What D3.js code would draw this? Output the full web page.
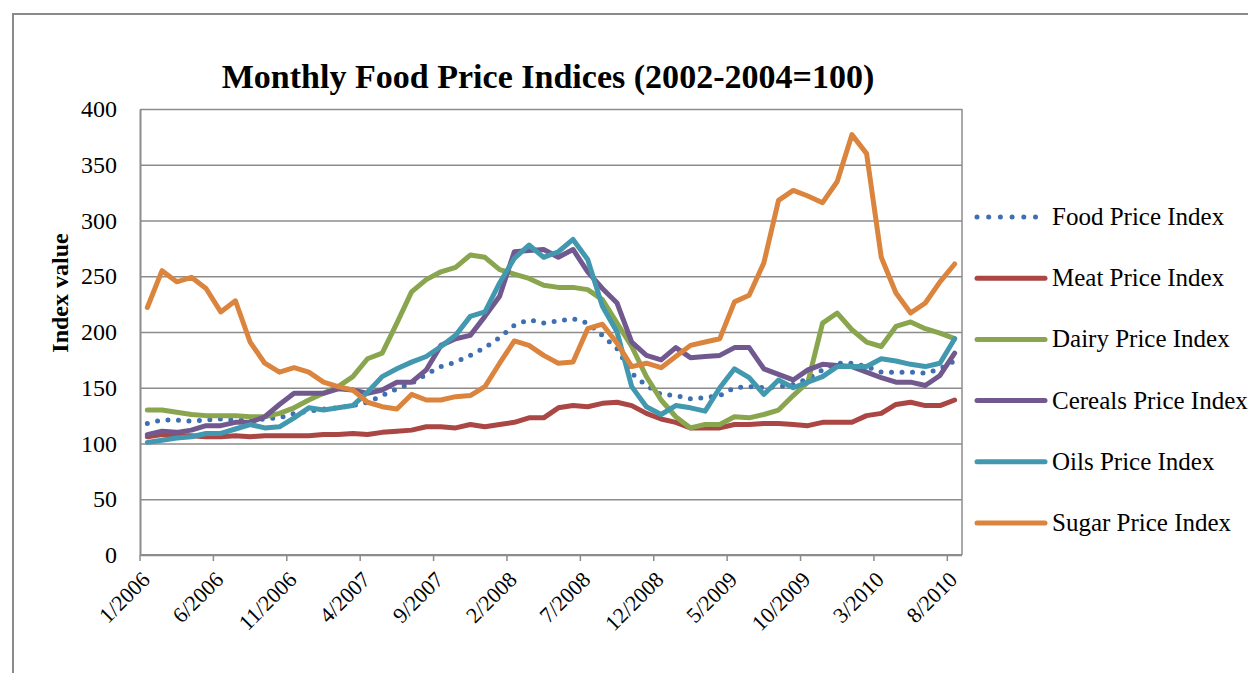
<html>
<head>
<meta charset="utf-8">
<title>Monthly Food Price Indices</title>
<script src="https://d3js.org/d3.v7.min.js"></script>
<style>
  body { margin: 0; background: #fff; }
  svg text { font-family: "Liberation Serif", "DejaVu Serif", serif; fill: #000; }
</style>
</head>
<body>
<div id="chart"></div>
<script>
// ---- data ----
const months = [];
for (let yr = 2006; yr <= 2010; yr++) {
  for (let m = 1; m <= 12; m++) {
    if (yr === 2010 && m > 8) break;
    months.push(m + "/" + yr);
  }
}
const tickLabels = ["1/2006","6/2006","11/2006","4/2007","9/2007","2/2008","7/2008",
                    "12/2008","5/2009","10/2009","3/2010","8/2010"];
const yTicks = [0, 50, 100, 150, 200, 250, 300, 350, 400];

const food = [118,121,121,120,121,122,121,121,122,123,127,129,
              131,132,134,137,143,149,154,162,169,173,179,186,
              195,206,211,208,210,212,208,197,185,163,152,144,
              143,140,141,143,150,151,150,151,153,158,166,172,
              172,169,164,164,164,163,167,174];
const meat = [106,108,107,107,106,106,107,106,107,107,107,107,
              108,108,109,108,110,111,112,115,115,114,117,115,
              117,119,123,123,132,134,133,136,137,134,127,122,
              119,114,114,114,117,117,118,118,117,116,119,119,
              119,125,127,135,137,134,134,139];
const dairy = [130,130,128,126,125,125,125,124,124,127,132,139,
               145,151,160,176,181,208,236,247,254,258,269,267,
               256,252,248,242,240,240,238,229,208,187,160,139,
               124,114,117,117,124,123,126,130,143,155,208,217,
               202,191,187,205,209,203,199,194];
const cereals = [108,111,110,112,116,116,119,119,124,135,145,145,
                 145,149,148,145,148,155,155,166,188,194,197,214,
                 232,272,273,274,267,274,254,239,226,191,179,175,
                 186,177,178,179,186,186,167,162,157,166,171,170,
                 169,164,159,155,155,152,161,181];
const oils = [101,103,105,106,109,109,113,117,114,115,123,132,
              130,132,134,146,160,167,173,178,187,197,214,218,
              244,266,278,267,272,283,265,223,200,151,133,126,
              134,132,129,150,167,159,144,157,150,155,160,169,
              169,169,176,174,171,169,172,194];
const sugar = [222,255,245,249,239,218,228,191,172,164,168,164,
               155,151,148,137,133,131,144,139,139,142,143,151,
               172,192,188,179,172,173,203,207,190,169,172,168,
               178,188,191,194,227,233,262,318,327,322,316,335,
               377,360,267,235,217,226,245,261];

const seriesNames = ["Food Price Index","Meat Price Index","Dairy Price Index",
                     "Cereals Price Index","Oils Price Index","Sugar Price Index"];
const seriesValues = [food, meat, dairy, cereals, oils, sugar];
const seriesColors = ["#3f6fb3","#aa4643","#89a54e","#71588f","#4198af","#db843d"];

// ---- layout ----
const W = 1248, H = 673;
const plotLeft = 140, plotRight = 962, plotTop = 109, plotBottom = 555;

const svg = d3.select("#chart").append("svg")
    .attr("width", W)
    .attr("height", H);

// outer chart frame
svg.append("path")
    .attr("d", "M13," + H + "V14H" + W)
    .attr("fill", "none")
    .attr("stroke", "#8a8a8a")
    .attr("stroke-width", 2);

const x = d3.scaleBand().domain(months).range([plotLeft, plotRight]);
const bw = x.bandwidth();
const y = d3.scaleLinear().domain([0, 400]).range([plotBottom, plotTop]);

// gridlines
svg.append("g")
    .attr("class", "grid")
    .attr("transform", "translate(" + plotLeft + ",0)")
    .call(d3.axisLeft(y).tickValues(yTicks).tickSize(-(plotRight - plotLeft)).tickFormat(""))
    .call(g => g.select(".domain").remove())
    .call(g => g.selectAll("line").attr("stroke", "#8c8c8c").attr("stroke-width", 1.5));

// plot area border (right side)
svg.append("line")
    .attr("x1", plotRight).attr("x2", plotRight).attr("y1", plotTop).attr("y2", plotBottom)
    .attr("stroke", "#8c8c8c").attr("stroke-width", 1.5);

// y axis
svg.append("g")
    .attr("transform", "translate(" + plotLeft + ",0)")
    .call(d3.axisLeft(y).tickValues(yTicks).tickSize(0).tickPadding(23))
    .call(g => g.select(".domain").attr("stroke", "#8c8c8c").attr("stroke-width", 2))
    .call(g => g.selectAll("text")
        .style("font-family", '"Liberation Serif", serif')
        .style("font-size", "24px")
        .attr("fill", "#000"));

// x axis: ticks on category boundaries every 5 months
const tickMonths = months.filter((m, i) => i % 5 === 0);
const xAxis = svg.append("g");
xAxis.append("line")
    .attr("x1", plotLeft).attr("x2", plotRight).attr("y1", plotBottom).attr("y2", plotBottom)
    .attr("stroke", "#8c8c8c").attr("stroke-width", 2);
xAxis.selectAll("line.tick")
    .data(tickMonths).enter()
    .append("line")
    .attr("class", "tick")
    .attr("x1", d => x(d)).attr("x2", d => x(d))
    .attr("y1", plotBottom).attr("y2", plotBottom + 6)
    .attr("stroke", "#8c8c8c").attr("stroke-width", 1.5);
xAxis.selectAll("text")
    .data(tickLabels).enter()
    .append("text")
    .attr("text-anchor", "end")
    .attr("transform", d => "translate(" + (x(d) + bw / 2 + 4) + "," + (plotBottom + 26) + ") rotate(-45)")
    .style("font-size", "22px")
    .text(d => d);

// lines
const line = d3.line()
    .x((d, i) => x(months[i]) + bw / 2)
    .y(d => y(d));

svg.selectAll("path.series")
    .data(seriesValues).enter()
    .append("path")
    .attr("class", "series")
    .attr("d", d => line(d))
    .attr("fill", "none")
    .attr("stroke", (d, i) => seriesColors[i])
    .attr("stroke-width", 5)
    .attr("stroke-linejoin", "round")
    .attr("stroke-linecap", "round")
    .attr("stroke-dasharray", (d, i) => i === 0 ? "0 10.5" : null);

// legend
const legend = svg.selectAll("g.legend")
    .data(seriesNames).enter()
    .append("g")
    .attr("class", "legend")
    .attr("transform", (d, i) => "translate(977," + (217 + i * 61.2) + ")");
legend.append("line")
    .attr("x1", 0).attr("x2", 68).attr("y1", 0).attr("y2", 0)
    .attr("stroke", (d, i) => seriesColors[i])
    .attr("stroke-width", 5)
    .attr("stroke-linecap", "round")
    .attr("stroke-dasharray", (d, i) => i === 0 ? "0 11.7" : null);
legend.append("text")
    .attr("x", 75)
    .attr("y", 8)
    .style("font-size", "25px")
    .text(d => d);

// title, fitted to the reference width
const title = svg.append("text")
    .attr("x", 548)
    .attr("y", 88)
    .attr("text-anchor", "middle")
    .style("font-weight", "bold")
    .style("font-size", "30px")
    .text("Monthly Food Price Indices (2002-2004=100)");
let tw = title.node().getComputedTextLength();
title.style("font-size", (30 * 653 / tw) + "px");

// y axis title
const ylab = svg.append("text")
    .attr("transform", "translate(68,293) rotate(-90)")
    .attr("text-anchor", "middle")
    .style("font-weight", "bold")
    .style("font-size", "22px")
    .text("Index value");
let lw = ylab.node().getComputedTextLength();
ylab.style("font-size", Math.min(24, 22 * 127 / lw) + "px");
</script>
</body>
</html>
